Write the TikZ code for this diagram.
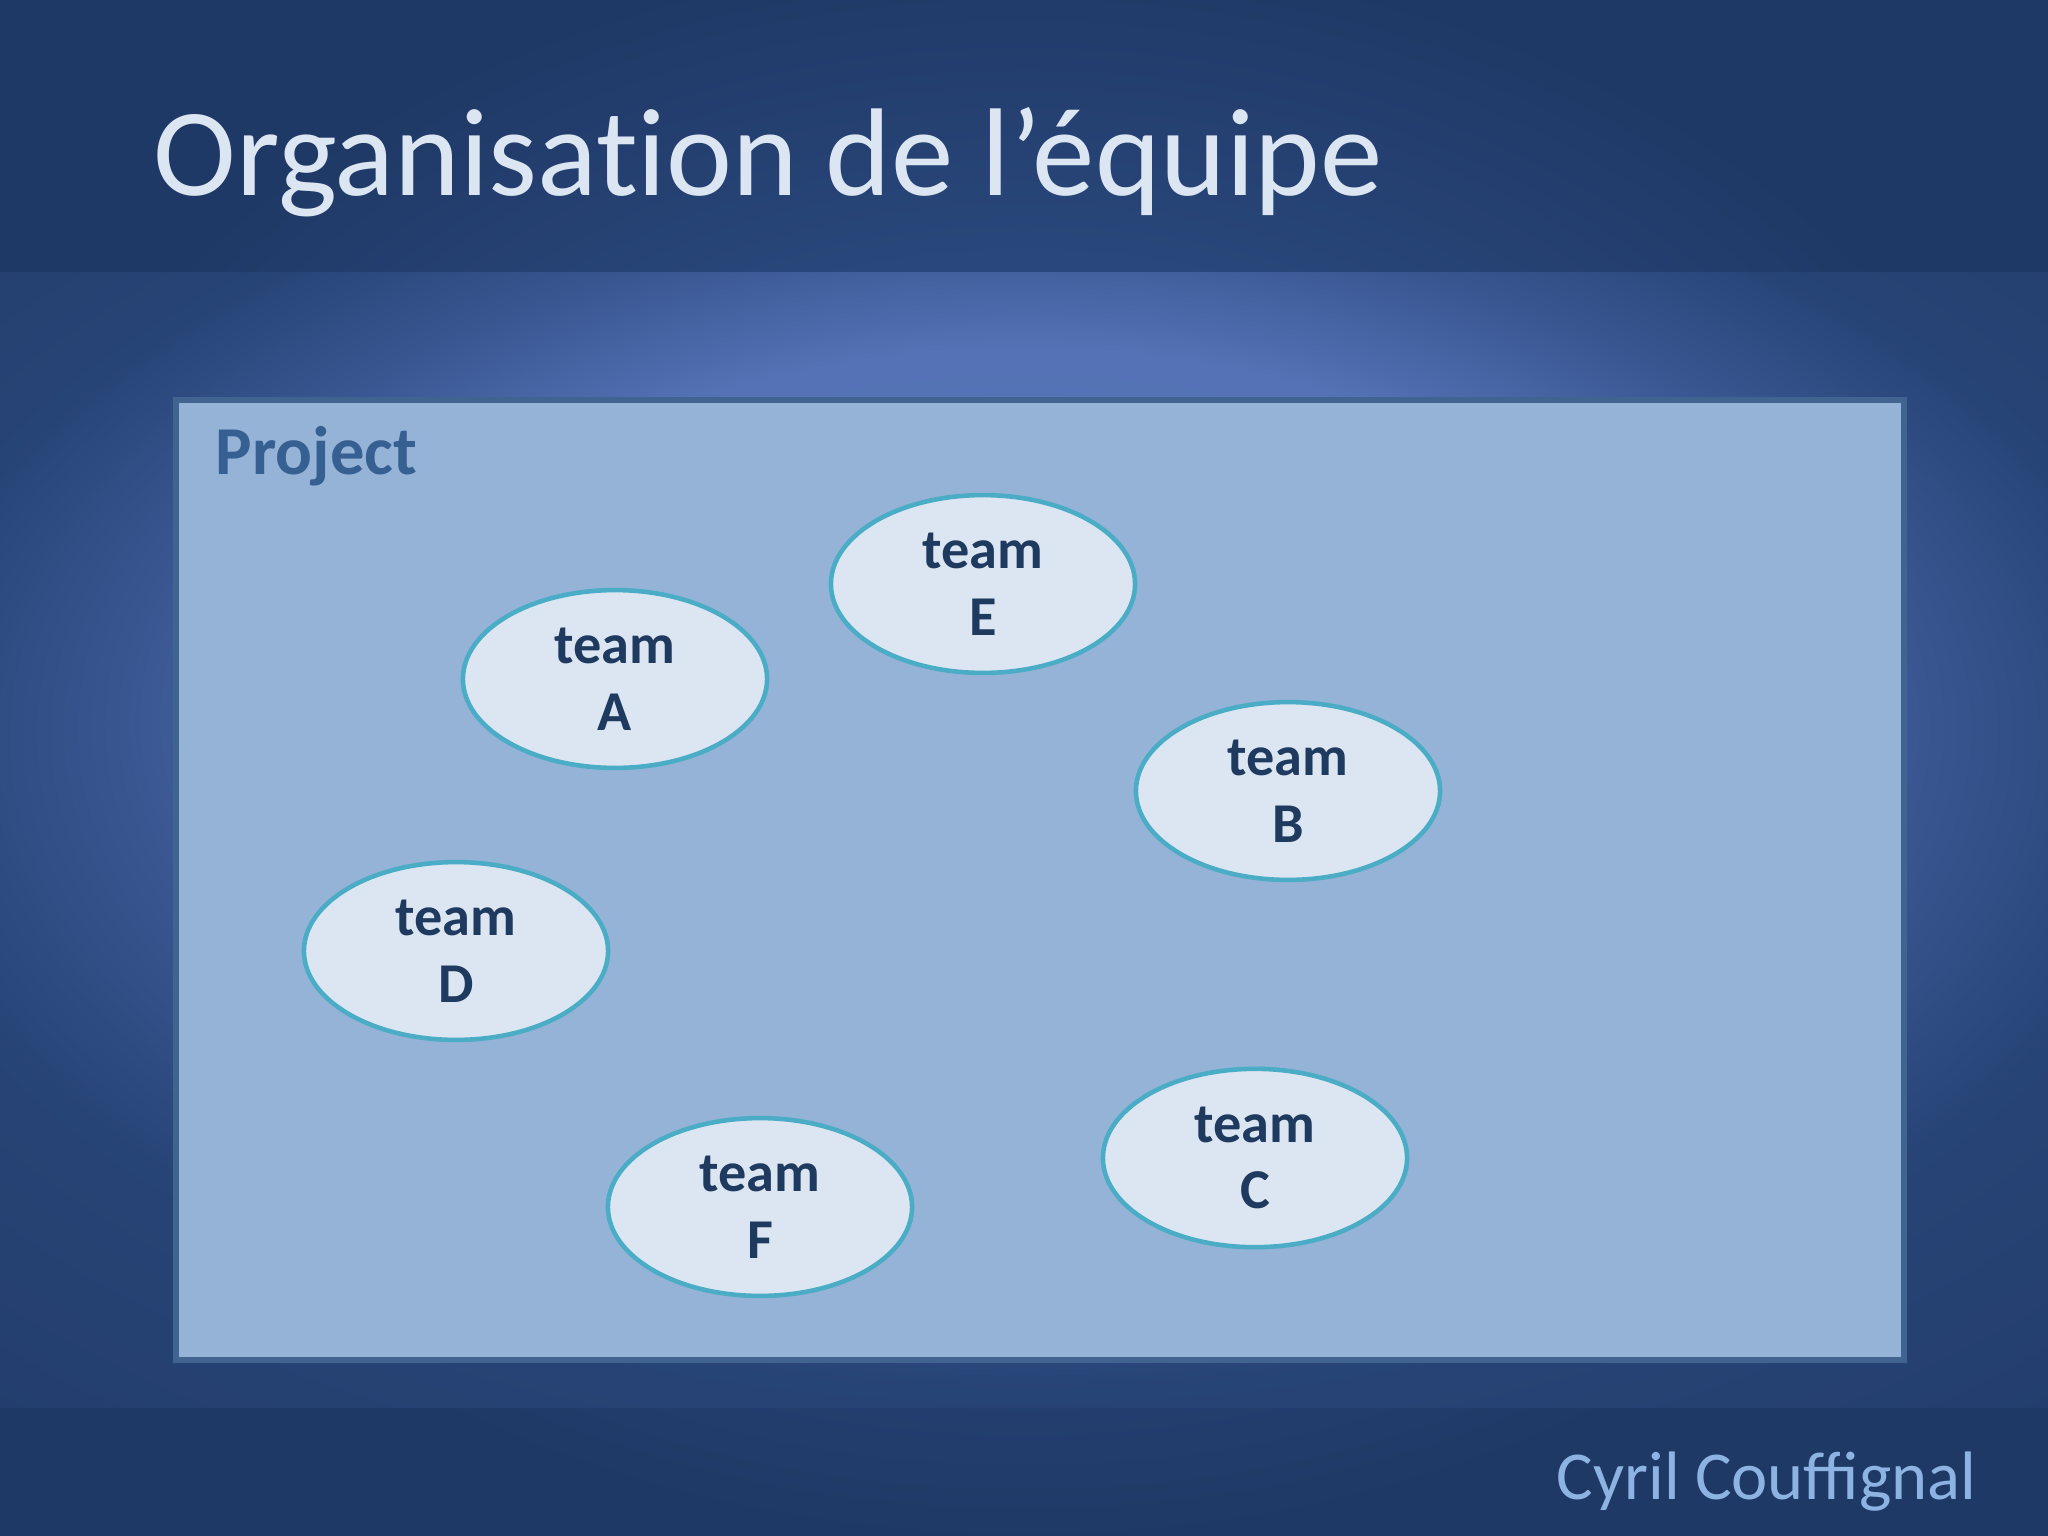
\documentclass[tikz,border=0pt]{standalone}
\usepackage{fontspec}
\setmainfont{Carlito}
\usetikzlibrary{shapes.geometric}

\definecolor{bgdark}{HTML}{1F3966}
\definecolor{bgmid}{HTML}{2F4E86}
\definecolor{glowA}{HTML}{5877BA}
\definecolor{glowB}{HTML}{4763A5}
\definecolor{glowC}{HTML}{2D4B81}
\definecolor{projfill}{HTML}{95B3D7}
\definecolor{projline}{HTML}{41638F}
\definecolor{projtext}{HTML}{376092}
\definecolor{teamfill}{HTML}{DCE6F2}
\definecolor{teamline}{HTML}{4BACC6}
\definecolor{teamtext}{HTML}{1F3A5F}
\definecolor{titletext}{HTML}{DCE6F2}
\definecolor{authortext}{HTML}{8DB3E2}

\pgfdeclareradialshading{slideglow}{\pgfpoint{0bp}{2bp}}{color(0bp)=(bgmid); color(10bp)=(bgmid); color(26bp)=(bgdark); color(40bp)=(bgdark)}
\pgfdeclareradialshading{bandglow}{\pgfpoint{0bp}{10bp}}{color(0bp)=(glowA); color(15bp)=(glowA!75!glowB); color(22bp)=(glowB!45!glowC); color(28bp)=(glowC!60!bgdark); color(45bp)=(bgdark)}

\tikzset{
	team/.style={ellipse, draw=teamline, fill=teamfill, line width=1.3pt,
		minimum width=3.04cm, minimum height=1.76cm, align=center,
		text=teamtext, font=\fontsize{16}{19}\selectfont\bfseries},
}

\begin{document}
\begin{tikzpicture}[x=0.01cm, y=-0.01cm]
	\useasboundingbox (0,0) rectangle (2048,1536);

	\shade[shading=slideglow] (0,0) rectangle (2048,1536);
	\shade[shading=bandglow] (0,272) rectangle (2048,1407);

	\draw[projline, fill=projfill, line width=1.6pt] (176,400) rectangle (1904,1360);

	\node[anchor=base west, text=titletext, font=\fontsize{35.5}{43}\selectfont\addfontfeature{Ligatures=NoCommon}, inner sep=0pt] (title) at (153,195) {Organisation de l’équipe};
	\node[anchor=base west, text=projtext, font=\fontsize{19.5}{23}\selectfont\bfseries, inner sep=0pt] (project) at (215,474) {Project};
	\node[anchor=base east, text=authortext, font=\fontsize{19.5}{24}\selectfont, inner sep=0pt] (author) at (1977,1499) {Cyril Couffignal};

	\node[team] (teamE) at (983,584) {team\\E};
	\node[team] (teamA) at (615,679) {team\\A};
	\node[team] (teamB) at (1288,791) {team\\B};
	\node[team] (teamD) at (456,951) {team\\D};
	\node[team] (teamC) at (1255,1158) {team\\C};
	\node[team] (teamF) at (760,1207) {team\\F};

\end{tikzpicture}
\end{document}
